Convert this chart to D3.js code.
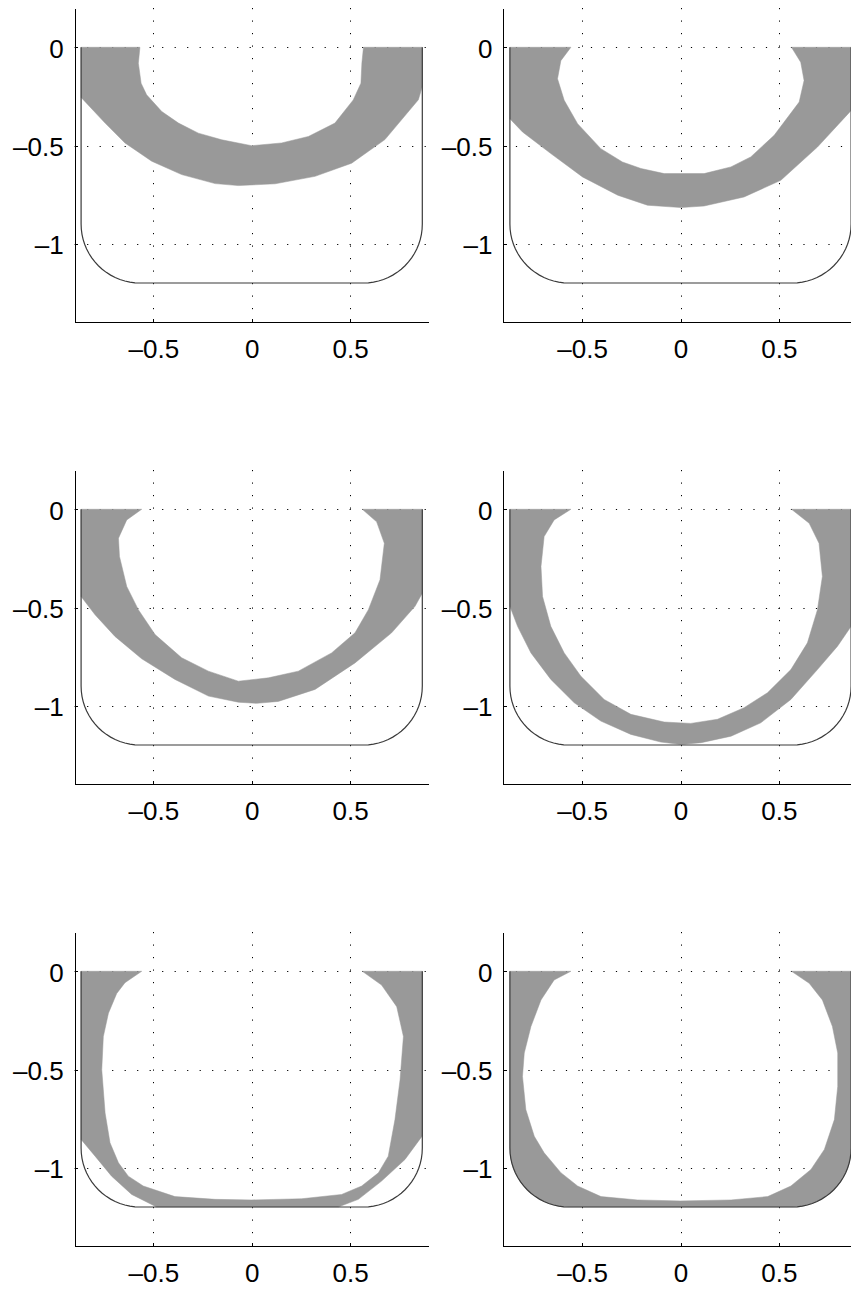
<!DOCTYPE html>
<html>
<head>
<meta charset="utf-8">
<script src="https://cdn.jsdelivr.net/npm/d3@7"></script>
<style>
  html, body { margin: 0; padding: 0; background: #fff; }
  svg { display: block; }
  text { font-family: "Liberation Sans", Arial, Helvetica, sans-serif; }
</style>
</head>
<body>
<svg id="chart" width="851" height="1292"></svg>
<script>
// ---------- data ----------
const xTicks = [-0.5, 0, 0.5];
const yTicks = [0, -0.5, -1];
const xTickLabels = ["\u20130.5", "0", "0.5"];
const yTickLabels = ["0", "\u20130.5", "\u20131"];
const xDomain = [-0.9, 0.9];
const yDomain = [-1.4, 0.2];

// hull section (half beam, draft, bilge radius)
const hullHalfBeam = 0.867;
const hullDraft = 1.2;
const hullBilgeRadius = 0.3;

// outer boundary of the grey band (left top -> right top)
const outer1 = [[-0.867,0],[-0.867,-0.255],[-0.745,-0.386],[-0.644,-0.487],[-0.508,-0.58],[-0.356,-0.648],[-0.186,-0.694],[-0.068,-0.704],[0.119,-0.695],[0.322,-0.657],[0.508,-0.59],[0.677,-0.47],[0.847,-0.267],[0.867,-0.2],[0.867,0]];
const inner1 = [[-0.568,0],[-0.576,-0.081],[-0.562,-0.183],[-0.534,-0.242],[-0.457,-0.327],[-0.372,-0.386],[-0.271,-0.437],[-0.152,-0.471],[0,-0.501],[0.152,-0.487],[0.288,-0.454],[0.423,-0.386],[0.516,-0.268],[0.555,-0.183],[0.56,-0.08],[0.568,0]];

const outer2 = [[-0.867,0],[-0.867,-0.364],[-0.803,-0.431],[-0.659,-0.541],[-0.498,-0.66],[-0.319,-0.753],[-0.168,-0.804],[0.003,-0.816],[0.12,-0.808],[0.323,-0.762],[0.51,-0.677],[0.696,-0.508],[0.867,-0.322],[0.867,0]];
const inner2 = [[-0.557,0],[-0.608,-0.068],[-0.625,-0.16],[-0.591,-0.27],[-0.523,-0.389],[-0.405,-0.516],[-0.295,-0.584],[-0.201,-0.617],[-0.083,-0.643],[0.12,-0.643],[0.256,-0.609],[0.357,-0.558],[0.476,-0.448],[0.603,-0.279],[0.628,-0.169],[0.611,-0.076],[0.564,0]];

const outer3 = [[-0.867,0],[-0.867,-0.444],[-0.796,-0.537],[-0.695,-0.647],[-0.559,-0.761],[-0.39,-0.866],[-0.22,-0.951],[-0.068,-0.982],[0.025,-0.988],[0.135,-0.978],[0.322,-0.917],[0.525,-0.782],[0.711,-0.629],[0.83,-0.494],[0.867,-0.427],[0.867,0]];
const inner3 = [[-0.559,0],[-0.635,-0.054],[-0.677,-0.147],[-0.672,-0.24],[-0.635,-0.393],[-0.576,-0.511],[-0.491,-0.638],[-0.356,-0.756],[-0.22,-0.824],[-0.068,-0.875],[0.085,-0.858],[0.237,-0.824],[0.406,-0.731],[0.525,-0.629],[0.593,-0.511],[0.652,-0.359],[0.674,-0.173],[0.635,-0.064],[0.562,0]];

const outer4 = [[-0.867,0],[-0.867,-0.494],[-0.828,-0.596],[-0.76,-0.731],[-0.659,-0.866],[-0.54,-0.985],[-0.405,-1.078],[-0.252,-1.146],[-0.1,-1.185],[0.003,-1.197],[0.105,-1.188],[0.257,-1.155],[0.408,-1.087],[0.561,-0.968],[0.696,-0.816],[0.798,-0.697],[0.867,-0.596],[0.867,0]];
const inner4 = [[-0.557,0],[-0.642,-0.054],[-0.693,-0.139],[-0.709,-0.291],[-0.701,-0.444],[-0.659,-0.596],[-0.591,-0.731],[-0.506,-0.85],[-0.388,-0.968],[-0.252,-1.044],[-0.083,-1.083],[0.052,-1.09],[0.188,-1.069],[0.323,-1.01],[0.442,-0.934],[0.561,-0.816],[0.645,-0.68],[0.696,-0.511],[0.721,-0.342],[0.704,-0.173],[0.654,-0.071],[0.564,0]];

const outer5 = [[-0.867,0],[-0.867,-0.856],[-0.796,-0.941],[-0.712,-1.043],[-0.61,-1.136],[-0.483,-1.2],[0.44,-1.2],[0.542,-1.161],[0.66,-1.068],[0.779,-0.958],[0.867,-0.838],[0.867,0]];
const inner5 = [[-0.559,0],[-0.644,-0.058],[-0.686,-0.113],[-0.728,-0.213],[-0.754,-0.332],[-0.762,-0.501],[-0.745,-0.721],[-0.72,-0.873],[-0.677,-0.975],[-0.627,-1.043],[-0.551,-1.093],[-0.39,-1.147],[-0.186,-1.161],[0,-1.164],[0.254,-1.158],[0.457,-1.136],[0.559,-1.093],[0.644,-1.026],[0.694,-0.941],[0.728,-0.755],[0.754,-0.552],[0.771,-0.332],[0.737,-0.18],[0.66,-0.07],[0.562,0]];

const outer6 = null; // band fills the whole hull section
const inner6 = [[-0.557,0],[-0.642,-0.044],[-0.709,-0.146],[-0.76,-0.281],[-0.794,-0.416],[-0.803,-0.535],[-0.786,-0.704],[-0.743,-0.84],[-0.693,-0.924],[-0.608,-1.025],[-0.523,-1.093],[-0.404,-1.147],[-0.218,-1.164],[0,-1.169],[0.257,-1.164],[0.443,-1.147],[0.561,-1.093],[0.663,-1.009],[0.731,-0.907],[0.782,-0.755],[0.799,-0.586],[0.799,-0.416],[0.772,-0.281],[0.721,-0.146],[0.654,-0.061],[0.564,0]];

const panels = [
  {outer: outer1, inner: inner1},
  {outer: outer2, inner: inner2},
  {outer: outer3, inner: inner3},
  {outer: outer4, inner: inner4},
  {outer: outer5, inner: inner5},
  {outer: outer6, inner: inner6}
];

// ---------- layout ----------
const colLeft = [74.6, 503.4];
const rowTop = [8, 470, 932];
const plotW = 354.2, plotH = 314.3;

// hull outline points (left top -> around bottom -> right top)
function hullPoints() {
  const B = hullHalfBeam, D = hullDraft, R = hullBilgeRadius;
  const pts = [[-B, 0], [-B, -(D - R)]];
  d3.range(1, 19).forEach(i => {
    const a = Math.PI + (i / 18) * (Math.PI / 2);
    pts.push([-B + R + R * Math.cos(a), -(D - R) + R * Math.sin(a)]);
  });
  d3.range(0, 19).forEach(i => {
    const a = 1.5 * Math.PI + (i / 18) * (Math.PI / 2);
    pts.push([B - R + R * Math.cos(a), -(D - R) + R * Math.sin(a)]);
  });
  pts.push([B, 0]);
  return pts;
}
const hull = hullPoints();

const svg = d3.select("#chart");

panels.forEach((p, i) => {
  const col = i % 2, row = Math.floor(i / 2);
  const x0 = colLeft[col], y0 = rowTop[row];
  const x = d3.scaleLinear().domain(xDomain).range([x0, x0 + plotW]);
  const y = d3.scaleLinear().domain(yDomain).range([y0 + plotH, y0]);
  const g = svg.append("g");

  // grid (dotted)
  const grid = g.append("g")
    .attr("stroke", "#000")
    .attr("stroke-width", 1)
    .attr("stroke-dasharray", "1.2,11.3")
    .attr("fill", "none");
  xTicks.forEach(v => {
    grid.append("line")
      .attr("x1", Math.round(x(v)) + 0.5).attr("x2", Math.round(x(v)) + 0.5)
      .attr("y1", y(yDomain[1])).attr("y2", y(yDomain[0]));
  });
  yTicks.forEach(v => {
    grid.append("line")
      .attr("y1", Math.round(y(v)) + 0.5).attr("y2", Math.round(y(v)) + 0.5)
      .attr("x1", x(xDomain[0])).attr("x2", x(xDomain[1]));
  });

  // grey band
  const outer = p.outer ? p.outer : hull;
  const poly = outer.concat(p.inner.slice().reverse());
  const line = d3.line().x(d => x(d[0])).y(d => y(d[1]));
  g.append("path")
    .attr("d", line(poly) + "Z")
    .attr("fill", "#999999")
    .attr("stroke", "#999999")
    .attr("stroke-width", 0.5);

  // hull outline
  g.append("path")
    .attr("d", line(hull))
    .attr("fill", "none")
    .attr("stroke", "#3a3a3a")
    .attr("stroke-width", 1.2);

  // axes
  const ax = g.append("g")
    .attr("transform", `translate(0,${y(yDomain[0])})`)
    .call(d3.axisBottom(x).tickValues(xTicks)
      .tickFormat((d, k) => xTickLabels[k])
      .tickSizeInner(-3.5).tickSizeOuter(0).tickPadding(17.5));
  const ay = g.append("g")
    .attr("transform", `translate(${x(xDomain[0])},0)`)
    .call(d3.axisLeft(y).tickValues(yTicks)
      .tickFormat((d, k) => yTickLabels[k])
      .tickSizeInner(-3.5).tickSizeOuter(0).tickPadding(11));
  [ax, ay].forEach(a => {
    a.selectAll("path.domain").attr("stroke", "#000").attr("stroke-width", 1).attr("shape-rendering", "crispEdges");
    a.selectAll(".tick line").attr("stroke", "#000").attr("stroke-width", 1).attr("shape-rendering", "crispEdges");
    a.selectAll("text").attr("fill", "#000").attr("font-size", "26px")
      .attr("font-family", "'Liberation Sans', Arial, Helvetica, sans-serif");
  });
  ay.selectAll("text").attr("dy", "0.38em");
});
</script>
</body>
</html>
